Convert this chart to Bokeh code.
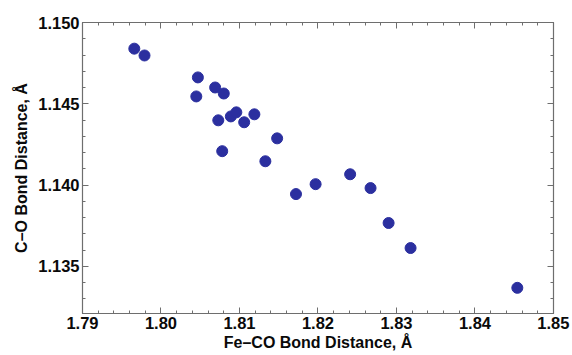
from bokeh.plotting import figure
from bokeh.models import LinearAxis, Range1d, SingleIntervalTicker, PrintfTickFormatter
from bokeh.embed import file_html
from bokeh.resources import INLINE

fe_co = [1.7966, 1.7979, 1.8047, 1.8045, 1.8069, 1.8080, 1.8073, 1.8078, 1.8089, 1.8096,
         1.8106, 1.8119, 1.8133, 1.8148, 1.8172, 1.8197, 1.8241, 1.8267, 1.8290, 1.8318, 1.8454]
c_o = [1.14840, 1.14798, 1.14663, 1.14546, 1.14601, 1.14564, 1.14399, 1.14209, 1.14423, 1.14448,
       1.14387, 1.14436, 1.14147, 1.14288, 1.13945, 1.14006, 1.14067, 1.13982, 1.13767, 1.13613, 1.13368]

x_label = "Fe\u2013CO Bond Distance, \u00c5"
y_label = "C\u2013O Bond Distance, \u00c5"

FONT = "Liberation Sans"
AX = "#6e6e6e"

p = figure(width=572, height=355, output_backend="svg", toolbar_location=None,
           x_range=Range1d(1.79, 1.85001), y_range=Range1d(1.1321, 1.15001),
           min_border_left=82, min_border_right=19, min_border_top=22, min_border_bottom=42,
           x_axis_location=None, y_axis_location=None)
p.grid.visible = False
p.outline_line_color = AX
p.outline_line_width = 1.2
p.background_fill_color = "white"

xt = SingleIntervalTicker(interval=0.01, num_minor_ticks=5)
yt = SingleIntervalTicker(interval=0.005, num_minor_ticks=5)

def style(ax, show):
    ax.axis_line_color = AX
    ax.major_tick_line_color = AX
    ax.minor_tick_line_color = AX
    ax.major_tick_in = 6
    ax.major_tick_out = 0
    ax.minor_tick_in = 3
    ax.minor_tick_out = 0
    ax.major_label_text_font = FONT
    ax.major_label_text_font_style = "bold"
    ax.major_label_text_font_size = "16.5px"
    ax.major_label_text_color = "#0a0a0a"
    ax.axis_label_text_font = FONT
    ax.axis_label_text_font_style = "bold"
    ax.axis_label_text_font_size = "16px"
    ax.axis_label_text_color = "#0a0a0a"
    if not show:
        ax.major_label_text_alpha = 0
        ax.major_label_text_font_size = "1px"

bx = LinearAxis(ticker=xt, formatter=PrintfTickFormatter(format="%.2f"), axis_label=x_label)
style(bx, True)
bx.major_label_standoff = 3
bx.axis_label_standoff = 2
p.add_layout(bx, "below")

ly = LinearAxis(ticker=yt, formatter=PrintfTickFormatter(format="%.3f"), axis_label=y_label)
style(ly, True)
ly.major_label_standoff = 3
ly.axis_label_standoff = 5
p.add_layout(ly, "left")

tx = LinearAxis(ticker=xt)
style(tx, False)
p.add_layout(tx, "above")
ry = LinearAxis(ticker=yt)
style(ry, False)
p.add_layout(ry, "right")

p.scatter(fe_co, c_o, size=11, color="#2b2f9f", line_color="#2b2f9f")

open("out.html", "w").write(file_html(p, INLINE))
